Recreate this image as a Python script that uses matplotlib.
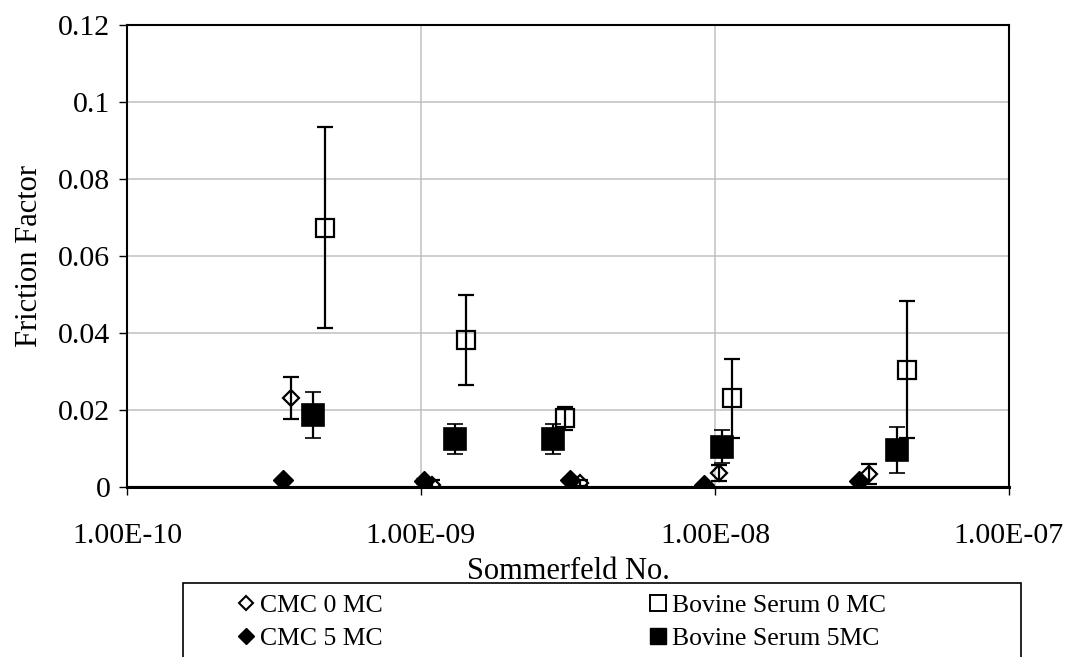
import matplotlib
matplotlib.use("Agg")
import matplotlib.pyplot as plt
from matplotlib.lines import Line2D
from matplotlib.patches import Rectangle
from matplotlib.ticker import FuncFormatter, FixedLocator, NullLocator, MultipleLocator

plt.rcParams['font.family'] = ['Liberation Serif', 'DejaVu Serif']

# Friction factor vs Sommerfeld number, mean +/- error
cmc0_x = [3.62e-10, 1.09e-9, 3.48e-9, 1.03e-8, 3.34e-8]
cmc0_y = [0.0232, 0.0006, 0.0010, 0.0036, 0.0033]
cmc0_err = [0.0055, 0.0012, 0.0008, 0.0020, 0.0026]

cmc5_x = [3.40e-10, 1.02e-9, 3.20e-9, 9.20e-9, 3.10e-8]
cmc5_y = [0.0018, 0.0015, 0.0018, 0.0006, 0.0016]
cmc5_err = [0.0006, 0.0008, 0.0006, 0.0004, 0.0006]

bs0_x = [4.70e-10, 1.42e-9, 3.10e-9, 1.14e-8, 4.50e-8]
bs0_y = [0.0674, 0.0382, 0.0178, 0.0230, 0.0305]
bs0_err = [0.0262, 0.0118, 0.0029, 0.0103, 0.0178]

bs5_x = [4.30e-10, 1.31e-9, 2.81e-9, 1.06e-8, 4.16e-8]
bs5_y = [0.0187, 0.0125, 0.0125, 0.0105, 0.0097]
bs5_err = [0.0060, 0.0038, 0.0038, 0.0043, 0.0060]

x_ticks = [1e-10, 1e-9, 1e-8, 1e-7]
labels = ["CMC 0 MC", "CMC 5 MC", "Bovine Serum 0 MC", "Bovine Serum 5MC"]

fig = plt.figure(figsize=(10.76, 6.57), dpi=100)
ax = fig.add_axes([127 / 1076, 1 - 487 / 657, (1009 - 127) / 1076, (487 - 25) / 657])

err_kw = dict(ecolor='black', elinewidth=1.6, capsize=5.6, capthick=1.6, linestyle='none')

ax.errorbar(bs5_x, bs5_y, yerr=bs5_err, marker='s', ms=16.0, mfc='black', mec='black',
            mew=1.2, zorder=4, **err_kw)
ax.errorbar(bs0_x, bs0_y, yerr=bs0_err, marker='s', ms=13.5, mfc='none', mec='black',
            mew=1.6, zorder=5, **err_kw)
ax.errorbar(cmc5_x, cmc5_y, yerr=cmc5_err, marker='D', ms=10.5, mfc='black', mec='black',
            mew=1.0, zorder=6, **err_kw)
ax.errorbar(cmc0_x, cmc0_y, yerr=cmc0_err, marker='D', ms=8.0, mfc='none', mec='black',
            mew=1.6, zorder=7, **err_kw)

ax.set_xscale('log')
ax.set_xlim(1e-10, 1e-7)
ax.set_ylim(0, 0.12)
ax.xaxis.set_major_locator(FixedLocator(x_ticks))
ax.xaxis.set_minor_locator(NullLocator())
ax.yaxis.set_major_locator(MultipleLocator(0.02))
ax.xaxis.set_major_formatter(FuncFormatter(lambda v, p: f"{v:.2E}"))
ax.yaxis.set_major_formatter(FuncFormatter(lambda v, p: f"{round(v, 4):g}"))

ax.grid(True, color='#c0c0c0', linewidth=1.1)
ax.set_axisbelow(True)
ax.axhline(0, color='black', linewidth=2.2, zorder=3, clip_on=False)
for s in ax.spines.values():
    s.set_linewidth(1.5)
    s.set_color('black')

ax.tick_params(axis='both', direction='out', length=6, width=1.0, labelsize=21.5)
ax.tick_params(axis='x', pad=20)
ax.tick_params(axis='y', pad=6)

ax.set_xlabel("Sommerfeld No.", fontsize=22, labelpad=6)
ax.set_ylabel("Friction Factor", fontsize=22, labelpad=10)

# Legend box and entries
fig.patches.append(Rectangle((183 / 1076, -0.02), (1021 - 183) / 1076, (1 - 583 / 657) + 0.02,
                             transform=fig.transFigure, fill=False, edgecolor='black',
                             linewidth=1.2))
handles = [
    Line2D([], [], linestyle='none', marker='D', ms=7.5, mfc='none', mec='black', mew=1.5),
    Line2D([], [], linestyle='none', marker='D', ms=8.5, mfc='black', mec='black'),
    Line2D([], [], linestyle='none', marker='s', ms=11.5, mfc='none', mec='black', mew=1.4),
    Line2D([], [], linestyle='none', marker='s', ms=12, mfc='black', mec='black'),
]
fig.legend(handles, labels, ncol=2, frameon=False, fontsize=18.5,
           loc='upper left', bbox_to_anchor=(236 / 1076, 1 - 594 / 657),
           handlelength=0.8, handletextpad=0.15, columnspacing=10.3,
           labelspacing=0.40, borderpad=0, borderaxespad=0)

fig.savefig("out.png", dpi=100)
